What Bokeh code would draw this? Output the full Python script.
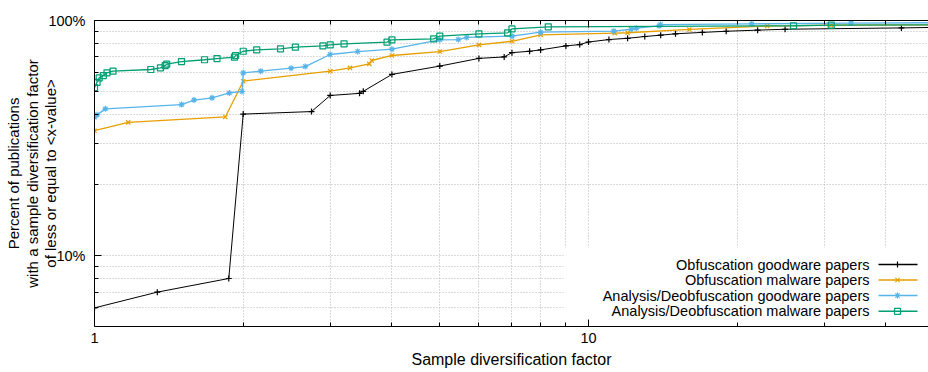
import math
from bokeh.plotting import figure
from bokeh.models import (LogAxis, FixedTicker, Range1d, LinearScale)
from bokeh.core.properties import value
from bokeh.embed import file_html
from bokeh.resources import INLINE

# ---------------- data ----------------
obf_good_x = [1, 1.34, 1.87, 2.0, 2.75, 3.0, 3.44, 3.5, 4.0, 5.0, 6.0, 6.75, 7.0, 7.6, 8.0,
              9.0, 9.6, 10, 11, 12, 13, 14, 15, 17, 19, 22, 25, 43, 60]
obf_good_y = [6, 7, 8, 40, 41, 48, 49, 50, 59, 64, 69, 70, 73, 74, 75,
              78, 79, 81, 83, 84, 85.5, 86.6, 87.8, 89, 90, 91, 91.8, 93, 94]

obf_mal_x = [1, 1.17, 1.84, 2.0, 3.0, 3.29, 3.6, 3.64, 4.0, 5.0, 6.0, 7.0, 8.0, 11.3, 12,
             16, 23, 31, 60]
obf_mal_y = [34, 36.9, 38.9, 55.2, 60.9, 62.9, 65.4, 67.6, 71, 73.8, 78.8, 81.6, 86.9, 88.4, 88.7,
             91.6, 94.7, 95.5, 96]

ana_good_x = [1, 1.012, 1.052, 1.50, 1.59, 1.73, 1.875, 1.99, 2.0, 2.17, 2.50, 2.67, 3.0, 3.41,
              4.0, 5.0, 5.45, 5.67, 7.0, 8.0, 11.25, 12.2, 12.5, 13.9, 14.0, 21.4, 34, 60]
ana_good_y = [38.8, 39.7, 42.1, 43.9, 45.9, 46.9, 49.2, 49.9, 59.9, 60.9, 62.7, 63.7, 71.7, 73.8,
              75.5, 82.8, 83, 84.7, 85.8, 89.2, 90.1, 91.8, 92.8, 94.9, 96.1, 96.8, 97.5, 98]

ana_mal_x = [1, 1.012, 1.022, 1.042, 1.06, 1.09, 1.30, 1.36, 1.39, 1.40, 1.50, 1.67, 1.77, 1.92,
             1.93, 2.0, 2.13, 2.38, 2.55, 2.90, 3.0, 3.20, 3.91, 4.0, 4.86, 5.0, 6.0, 6.86, 7.0,
             8.29, 26, 31, 60]
ana_mal_y = [51.9, 54.6, 57, 58.3, 59.9, 60.9, 61.9, 62.9, 64.3, 65.2, 66.9, 68.1, 68.9, 69.8,
             71, 74, 75, 75.8, 77, 78, 78.8, 79.6, 80.9, 82.8, 83.6, 85.8, 87.8, 88.6, 92.1,
             94, 95, 95.6, 96]

series_names = ["Obfuscation goodware papers", "Obfuscation malware papers",
                "Analysis/Deobfuscation goodware papers", "Analysis/Deobfuscation malware papers"]
x_major = [1, 10]
x_minor = [2, 3, 4, 5, 6, 7, 8, 9, 20, 30, 40]
y_major = [10, 100]
y_minor = [6, 7, 8, 9, 20, 30, 40, 50, 60, 70, 80, 90]
x_label = "Sample diversification factor"
y_label_lines = ["Percent of publications", "with a sample diversification factor",
                 "of less or equal to <x-value>"]

# ---------------- styling ----------------
FONT = "Liberation Sans"
FS = "14.5px"
W, H = 928, 372
BL, BT, BB, BR = 94, 20, 46, 0
FW, FH = W - BL - BR, H - BT - BB
colors = ["#000000", "#E69F00", "#56B4E9", "#009E73"]
markers = ["cross", "x", "asterisk", "square"]
widths = [1.0, 1.3, 1.3, 1.3]

x_end = 10 ** (FW / 494.0)

p = figure(width=W, height=H, x_axis_type="log", y_axis_type="log",
           x_range=Range1d(1, x_end), y_range=Range1d(5, 100),
           output_backend="svg", toolbar_location=None,
           min_border_left=BL, min_border_top=BT, min_border_bottom=BB, min_border_right=BR)
p.outline_line_color = None
p.background_fill_color = "white"
p.border_fill_color = "white"

xt = FixedTicker(ticks=x_major, minor_ticks=x_minor)
yt = FixedTicker(ticks=y_major, minor_ticks=y_minor)

for ax in (p.xaxis[0], p.yaxis[0]):
    ax.major_tick_in = 7
    ax.major_tick_out = 0
    ax.minor_tick_in = 4
    ax.minor_tick_out = 0
    ax.axis_line_color = "black"
    ax.major_tick_line_color = "black"
    ax.minor_tick_line_color = "black"
    ax.major_label_text_font = FONT
    ax.major_label_text_font_size = FS
    ax.major_label_text_color = "black"
    ax.axis_label_text_font = FONT
    ax.axis_label_text_font_style = "normal"
    ax.axis_label_text_color = "black"

p.xaxis.ticker = xt
p.yaxis.ticker = yt
p.xgrid.ticker = xt
p.ygrid.ticker = yt
p.xaxis.major_label_standoff = 6
p.yaxis.major_label_standoff = 9
p.yaxis.major_label_overrides = {10: "10%", 100: "100%"}
p.xaxis.major_label_overrides = {1: "1", 10: "10"}
p.xaxis.axis_label = x_label
p.xaxis.axis_label_text_font_size = "16px"
p.xaxis.axis_label_standoff = 5
p.yaxis.axis_label = "\n".join(y_label_lines)
p.yaxis.axis_label_text_font_size = "15px"
p.yaxis.axis_label_text_line_height = 1.1
p.yaxis.axis_label_standoff = -14

for g in (p.xgrid[0], p.ygrid[0]):
    g.grid_line_color = "#b4b4b4"
    g.grid_line_dash = "1 2"
    g.minor_grid_line_color = "#b4b4b4"
    g.minor_grid_line_dash = "1 2"

top = LogAxis(ticker=xt, major_tick_in=7, major_tick_out=0, minor_tick_in=4, minor_tick_out=0,
              major_label_text_font_size="1px", major_label_text_color=None,
              major_label_standoff=0, axis_line_color="black")
p.add_layout(top, "above")

# data series
all_x = [obf_good_x, obf_mal_x, ana_good_x, ana_mal_x]
all_y = [obf_good_y, obf_mal_y, ana_good_y, ana_mal_y]
for xs, ys, c, m, lw in zip(all_x, all_y, colors, markers, widths):
    p.line(xs, ys, line_color=c, line_width=lw)
    if m == "square":
        p.scatter(xs, ys, marker=m, size=6, line_color=c, fill_color=None, line_width=1.2)
    else:
        p.scatter(xs, ys, marker=m, size=6, line_color=c, line_width=1.2)

# manual gnuplot-style key (pixel coordinate system inside the frame)
p.extra_x_ranges = {"px": Range1d(0, FW)}
p.extra_y_ranges = {"px": Range1d(0, FH)}
p.extra_x_scales = {"px": LinearScale()}
p.extra_y_scales = {"px": LinearScale()}

p.quad(left=[469], right=[FW], bottom=[0], top=[79], fill_color="white", line_color=None,
       x_range_name="px", y_range_name="px")
rows = [62, 46.5, 31, 15.2]
p.text(x=[775] * 4, y=rows, text=series_names, x_range_name="px", y_range_name="px",
       text_align="right", text_baseline="middle", text_font=value(FONT),
       text_font_size=value(FS), text_color="black")
for r, c, m, lw in zip(rows, colors, markers, widths):
    p.segment(x0=[784], x1=[823], y0=[r], y1=[r], line_color=c, line_width=lw + 0.3,
              x_range_name="px", y_range_name="px")
    p.scatter(x=[803], y=[r], marker=m, size=6, line_color=c,
              fill_color=None if m == "square" else c, line_width=1.2,
              x_range_name="px", y_range_name="px")

open("out.html", "w").write(file_html(p, INLINE))
